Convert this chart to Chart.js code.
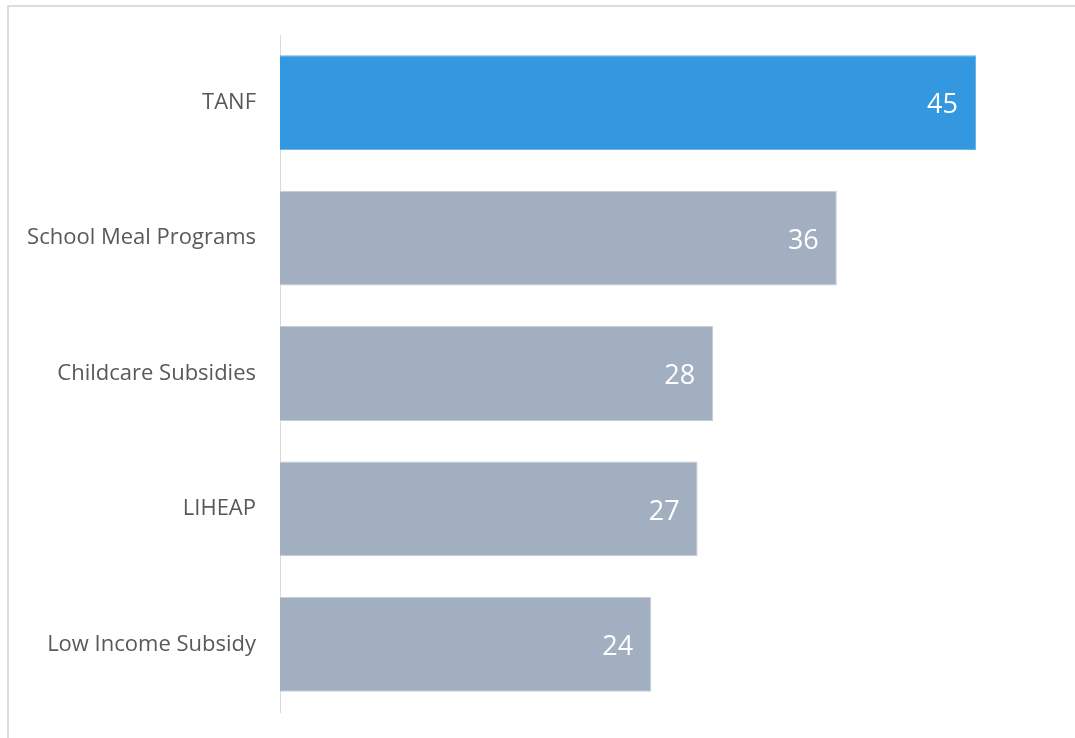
<!DOCTYPE html>
<html>
<head>
<meta charset="utf-8">
<script src="https://cdn.jsdelivr.net/npm/chart.js@4"></script>
<style>
    html, body { margin: 0; padding: 0; background: #fff; }
    #wrap { position: relative; width: 1075px; height: 738px; }
    #frame {
        position: absolute; left: 7px; top: 5px; right: 0; bottom: 0;
        border-top: 2px solid #dcdcdc; border-left: 2px solid #dcdcdc;
        pointer-events: none;
    }
</style>
</head>
<body>
<div id="wrap">
    <canvas id="barChart" width="1075" height="738"></canvas>
    <div id="frame"></div>
</div>
<script>
const categories = ['TANF', 'School Meal Programs', 'Childcare Subsidies', 'LIHEAP', 'Low Income Subsidy'];
const values = [45, 36, 28, 27, 24];
const barColors = ['#3498e0', '#a2afc0', '#a2afc0', '#a2afc0', '#a2afc0'];
const barEdges = ['#6bb4ea', '#c4cdd8', '#c4cdd8', '#c4cdd8', '#c4cdd8'];

// rótulos de valor dentro da barra, encostados no fim
const valueLabels = {
    id: 'valueLabels',
    afterDatasetsDraw(chart) {
        const ctx = chart.ctx;
        const meta = chart.getDatasetMeta(0);
        ctx.save();
        ctx.font = '27px "Open Sans"';
        ctx.fillStyle = '#ffffff';
        ctx.textAlign = 'right';
        ctx.textBaseline = 'middle';
        meta.data.forEach((bar, i) => {
            ctx.fillText(String(values[i]), bar.x - 18, bar.y + 3);
        });
        ctx.restore();
    }
};

new Chart(document.getElementById('barChart').getContext('2d'), {
    type: 'bar',
    data: {
        labels: categories,
        datasets: [{
            data: values,
            backgroundColor: barColors,
            borderColor: barEdges,
            borderWidth: 1,
            categoryPercentage: 1,
            barPercentage: 0.7
        }]
    },
    options: {
        indexAxis: 'y',
        responsive: false,
        animation: false,
        layout: { padding: { top: 35, bottom: 26, right: 99, left: 0 } },
        plugins: {
            legend: { display: false },
            tooltip: { enabled: false }
        },
        scales: {
            x: {
                display: false,
                min: 0,
                max: 45
            },
            y: {
                grid: { display: false, drawTicks: false },
                border: { display: true, color: '#d9d9d9', width: 1 },
                ticks: {
                    color: '#595959',
                    font: { family: '"Open Sans"', size: 22 },
                    padding: 24
                },
                afterFit(scale) {
                    scale.width = 280;
                    scale.paddingTop = 0;
                    scale.paddingBottom = 0;
                }
            }
        }
    },
    plugins: [valueLabels]
});
</script>
</body>
</html>
